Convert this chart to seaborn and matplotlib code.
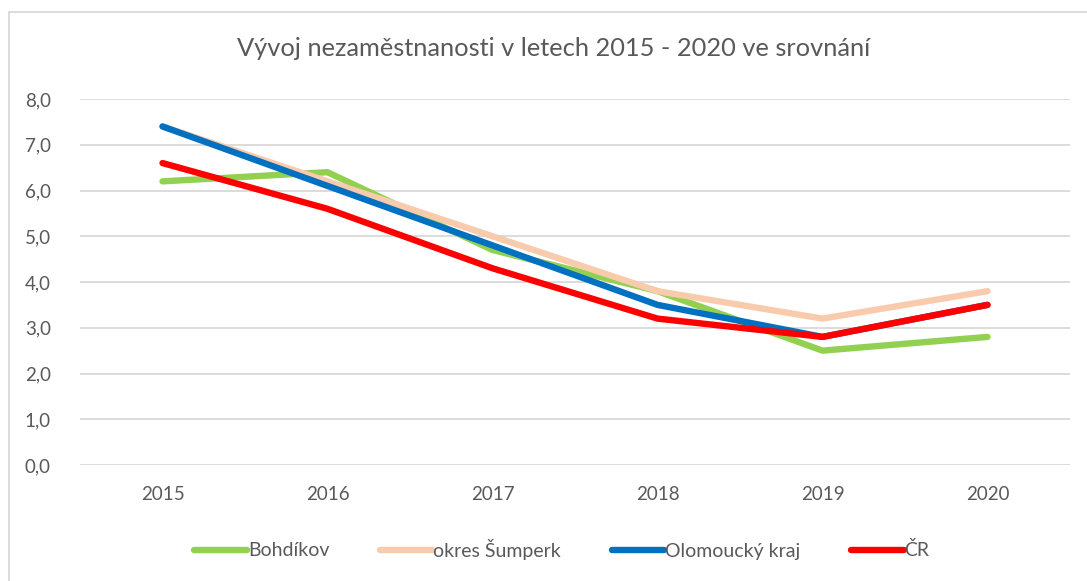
import pandas as pd
import matplotlib.pyplot as plt
import seaborn as sns
from matplotlib.patches import Rectangle

# ---------------------------------- DATA ----------------------------------
years = ["2015", "2016", "2017", "2018", "2019", "2020"]
bohdikov = [6.2, 6.4, 4.7, 3.8, 2.5, 2.8]
sumperk = [7.4, 6.2, 5.0, 3.8, 3.2, 3.8]
olomoucky = [7.4, 6.1, 4.8, 3.5, 2.8, 3.5]
cr = [6.6, 5.6, 4.3, 3.2, 2.8, 3.5]

series_names = ["Bohdíkov", "okres Šumperk", "Olomoucký kraj", "ČR"]
palette = ["#92D050", "#F8CBAD", "#0070C0", "#FF0000"]

df = pd.DataFrame({
    "rok": years * 4,
    "hodnota": bohdikov + sumperk + olomoucky + cr,
    "oblast": [n for n in series_names for _ in years],
})

# ---------------------------------- PLOT ----------------------------------
sns.set_theme(style="white")
plt.rcParams["font.family"] = ["Lato", "DejaVu Sans"]
text_col = "#595959"

fig = plt.figure(figsize=(10.87, 5.81), dpi=100)
ax = fig.add_axes([80 / 1087, 116 / 581, 990 / 1087, 366 / 581])

sns.lineplot(data=df, x="rok", y="hodnota", hue="oblast", palette=palette,
             hue_order=series_names, linewidth=4.6, sort=False, ax=ax)
for line in ax.get_lines():
    line.set_solid_capstyle("round")
    line.set_solid_joinstyle("round")

ax.set_xlim(-0.5, 5.5)
ax.set_ylim(0, 8)
ax.set_yticks(range(0, 9))
ax.set_yticklabels([f"{v:.1f}".replace(".", ",") for v in range(0, 9)])
ax.yaxis.grid(True, color="#D9D9D9", linewidth=1.3)
ax.set_axisbelow(True)
for s in ax.spines.values():
    s.set_visible(False)
ax.tick_params(axis="both", length=0, labelsize=13.5, colors=text_col)
ax.tick_params(axis="y", pad=21)
ax.tick_params(axis="x", pad=15)
ax.set_xlabel("")
ax.set_ylabel("")

fig.text(0.509, 1 - 49 / 581, "Vývoj nezaměstnanosti v letech 2015 - 2020 ve srovnání",
         ha="center", va="center", fontsize=18.3, color=text_col)

handles, labels = ax.get_legend_handles_labels()
for h in handles:
    h.set_linewidth(4.6)
    h.set_solid_capstyle("round")
ax.legend(handles, labels, loc="center", bbox_to_anchor=(0.517, 1 - 549 / 581),
          bbox_transform=fig.transFigure, ncol=4, frameon=False, fontsize=14,
          handlelength=2.7, handletextpad=0.05, columnspacing=2.6, labelcolor=text_col)

fig.patches.append(Rectangle((9 / 1087, -0.01), 1.1, 1 - 12 / 581 + 0.01,
                             transform=fig.transFigure, fill=False,
                             edgecolor="#D9D9D9", linewidth=1.3))

fig.savefig("out.png", dpi=100)
